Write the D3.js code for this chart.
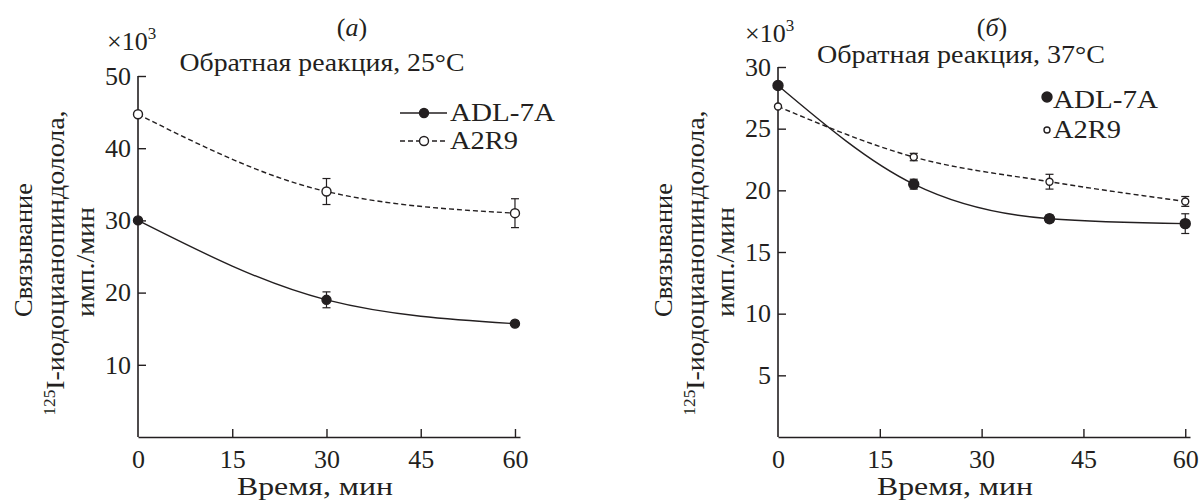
<!doctype html>
<html>
<head>
<meta charset="UTF-8">
<script src="https://d3js.org/d3.v7.min.js"></script>
</head>
<body style="margin:0;background:#fff">
<script>
// ---- data (binding, x10^3 cpm) ----
var timeA = [0, 30, 60];
var adlA = [30, 19, 15.7];
var adlErrA = [0, 1.1, 0.4];
var a2r9A = [44.7, 34, 31];
var a2r9ErrA = [0, 1.8, 2];

var timeB = [0, 20, 40, 60];
var adlB = [28.5, 20.5, 17.7, 17.3];
var adlErrB = [0, 0.4, 0.3, 0.8];
var a2r9B = [26.8, 22.7, 20.7, 19.1];
var a2r9ErrB = [0, 0.3, 0.6, 0.4];

var xTicks = [0, 15, 30, 45, 60];
var yTicksA = [10, 20, 30, 40, 50];
var yTicksB = [5, 10, 15, 20, 25, 30];
var seriesNames = ["ADL-7A", "A2R9"];

var ink = "#231f20";
var font = "Liberation Serif";
var fs = 26;

var svg = d3.select("body").append("svg")
  .attr("width", 1203)
  .attr("height", 501)
  .style("font-family", font);

function txt(sel, size, len) {
  sel.style("font-family", font).attr("font-size", size).attr("fill", ink);
  // the printed face is wider than Liberation Serif, stretch to the measured width
  if (len) sel.attr("textLength", len).attr("lengthAdjust", "spacingAndGlyphs");
  return sel;
}

function panel(o) {
  var x = d3.scaleLinear().domain([0, o.xmax]).range([o.left, o.right]);
  var y = d3.scaleLinear().domain([0, o.ymax]).range([437, o.top]);
  var g = svg.append("g");

  // axes
  var ax = g.append("g")
    .attr("transform", "translate(0,437)")
    .call(d3.axisBottom(x).tickValues(xTicks).tickSize(-8).tickSizeOuter(0).tickPadding(13));
  var ay = g.append("g")
    .attr("transform", "translate(" + o.left + ",0)")
    .call(d3.axisLeft(y).tickValues(o.yTicks).tickSize(-8).tickSizeOuter(0).tickPadding(7));
  ay.select(".domain").attr("d", "M0," + y(0) + "V" + y(o.ymax));
  [ax, ay].forEach(function (a) {
    a.attr("font-family", font);
    a.select(".domain").attr("stroke", ink).attr("stroke-width", 1.6);
    a.selectAll(".tick line").attr("stroke", ink).attr("stroke-width", 1.4);
    txt(a.selectAll(".tick text"), fs);
  });
  ax.selectAll(".tick").filter(d => d == 0).select("line").remove();

  // axis titles
  txt(g.append("text"), fs, 156).attr("x", o.xTitleX).attr("y", 495)
    .attr("text-anchor", "middle").text("Время, мин");

  var ylab = [
    {dx: -106, cy: 250, len: 134, t: "Связывание"},
    {dx: -74, cy: 263, len: 305, t: null},
    {dx: -44, cy: 262, len: 110, t: "имп./мин"}
  ];
  ylab.forEach(function (l) {
    var t = g.append("text")
      .attr("transform", "translate(" + (o.left + l.dx) + "," + l.cy + ") rotate(-90)")
      .attr("text-anchor", "middle");
    txt(t, fs, l.len);
    if (l.t) t.text(l.t);
    else {
      t.append("tspan").attr("font-size", 16).attr("dy", -9).text("125");
      t.append("tspan").attr("dy", 9).text("I-иодоцианопиндолола,");
    }
  });

  // multiplier
  var m = txt(g.append("text"), fs).attr("x", o.multX).attr("y", o.multY);
  m.append("tspan").text("×10");
  m.append("tspan").attr("font-size", 17).attr("dy", -11).text("3");

  // titles
  var tl = txt(g.append("text"), fs).attr("x", o.letterX).attr("y", 36).attr("text-anchor", "middle");
  tl.append("tspan").text("(");
  tl.append("tspan").attr("font-style", "italic").text(o.letter);
  tl.append("tspan").text(")");
  txt(g.append("text"), fs, o.subLen).attr("x", o.subX).attr("y", o.subY)
    .attr("text-anchor", "middle").text(o.sub);

  // series
  var series = [
    {vals: o.adl, err: o.adlErr, filled: true, dash: null, r: o.rFill},
    {vals: o.a2r9, err: o.a2r9Err, filled: false, dash: "5,3", r: o.rOpen}
  ];
  var line = d3.line().x(d => x(d[0])).y(d => y(d[1])).curve(d3.curveMonotoneX);
  series.forEach(function (s) {
    var pts = o.time.map((t, i) => [t, s.vals[i], s.err[i]]);
    g.append("path").datum(pts).attr("d", line)
      .attr("fill", "none").attr("stroke", ink).attr("stroke-width", 1.4)
      .attr("stroke-dasharray", s.dash);
    var eb = g.append("g").selectAll("g").data(pts.filter(d => d[2] > 0)).enter().append("g");
    eb.append("line")
      .attr("x1", d => x(d[0])).attr("x2", d => x(d[0]))
      .attr("y1", d => y(d[1] - d[2])).attr("y2", d => y(d[1] + d[2]))
      .attr("stroke", ink).attr("stroke-width", 1.2);
    [-1, 1].forEach(function (sg) {
      eb.append("line")
        .attr("x1", d => x(d[0]) - 4).attr("x2", d => x(d[0]) + 4)
        .attr("y1", d => y(d[1] + sg * d[2])).attr("y2", d => y(d[1] + sg * d[2]))
        .attr("stroke", ink).attr("stroke-width", 1.2);
    });
    g.append("g").selectAll("circle").data(pts).enter().append("circle")
      .attr("cx", d => x(d[0])).attr("cy", d => y(d[1])).attr("r", s.r)
      .attr("fill", s.filled ? ink : "#fff")
      .attr("stroke", ink).attr("stroke-width", 1.4);
  });

  // legend
  var lg = g.append("g");
  var legLen = [105, 68];
  seriesNames.forEach(function (n, i) {
    var ly = o.legY[i];
    if (o.legLines) {
      lg.append("line").attr("x1", o.legX - 24).attr("x2", o.legX + 23)
        .attr("y1", ly).attr("y2", ly).attr("stroke", ink).attr("stroke-width", 1.4)
        .attr("stroke-dasharray", i == 1 ? "5,3" : null);
    }
    lg.append("circle").attr("cx", o.legX).attr("cy", ly).attr("r", i == 0 ? o.rFill : o.legOpenR)
      .attr("fill", i == 0 ? ink : "#fff").attr("stroke", ink).attr("stroke-width", 1.4);
    txt(lg.append("text"), 26, legLen[i]).attr("x", o.legTextX).attr("y", o.legTextY[i]).text(n);
  });
}

panel({
  left: 138, right: 520, xmax: 60.8, top: 76, ymax: 50, yTicks: yTicksA,
  time: timeA, adl: adlA, adlErr: adlErrA, a2r9: a2r9A, a2r9Err: a2r9ErrA,
  xTitleX: 315, multX: 107, multY: 50, letter: "а", letterX: 352,
  sub: "Обратная реакция, 25°С", subX: 322, subY: 71, subLen: 285,
  rFill: 4.5, rOpen: 4.5, legOpenR: 4.5, legLines: true,
  legX: 424, legY: [113, 141], legTextX: 450, legTextY: [121, 149]
});

panel({
  left: 778, right: 1190, xmax: 60.7, top: 67, ymax: 30, yTicks: yTicksB,
  time: timeB, adl: adlB, adlErr: adlErrB, a2r9: a2r9B, a2r9Err: a2r9ErrB,
  xTitleX: 955, multX: 745, multY: 42, letter: "б", letterX: 992,
  sub: "Обратная реакция, 37°С", subX: 961, subY: 63, subLen: 288,
  rFill: 5, rOpen: 3.5, legOpenR: 3, legLines: false,
  legX: 1047, legY: [97, 130], legTextX: 1053, legTextY: [108, 138]
});
</script>
</body>
</html>
